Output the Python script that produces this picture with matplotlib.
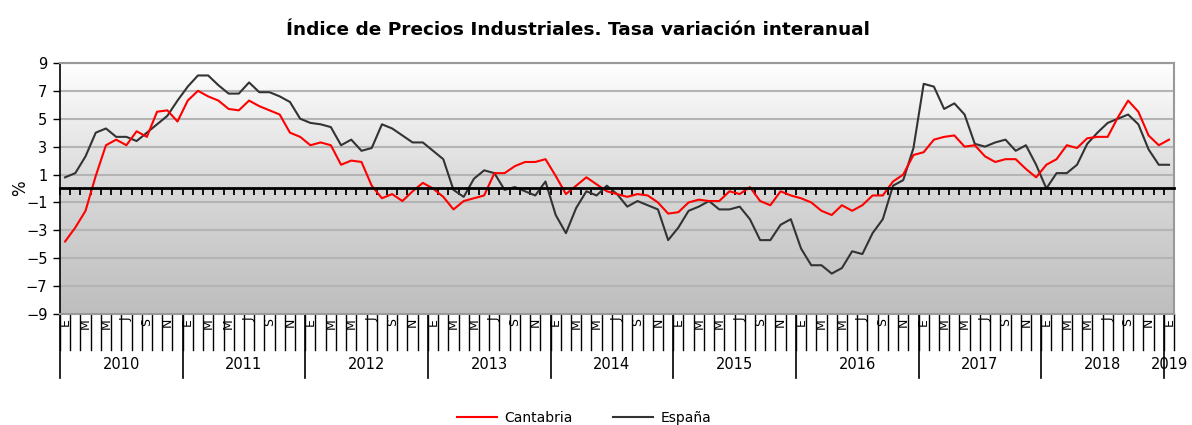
import numpy as np
import matplotlib
matplotlib.use("Agg")
import matplotlib.pyplot as plt
import matplotlib.transforms as mtransforms
from matplotlib.colors import LinearSegmentedColormap

# datos mensuales ene-2010 .. ene-2019
anios = ['2010', '2011', '2012', '2013', '2014', '2015', '2016', '2017', '2018', '2019']
meses = ['E', 'F', 'M', 'A', 'M', 'J', 'J', 'A', 'S', 'O', 'N', 'D']

cantabria = [-3.8, -2.8, -1.6, 0.9, 3.1, 3.5, 3.1, 4.1, 3.7, 5.5, 5.6, 4.8,
             6.3, 7.0, 6.6, 6.3, 5.7, 5.6, 6.3, 5.9, 5.6, 5.3, 4.0, 3.7,
             3.1, 3.3, 3.1, 1.7, 2.0, 1.9, 0.2, -0.7, -0.4, -0.9, -0.2, 0.4,
             0.0, -0.6, -1.5, -0.9, -0.7, -0.5, 1.1, 1.1, 1.6, 1.9, 1.9, 2.1,
             0.9, -0.4, 0.2, 0.8, 0.3, -0.2, -0.4, -0.6, -0.4, -0.5, -1.0, -1.8,
             -1.7, -1.0, -0.8, -0.9, -0.9, -0.2, -0.4, 0.1, -0.9, -1.2, -0.2, -0.5,
             -0.7, -1.0, -1.6, -1.9, -1.2, -1.6, -1.2, -0.5, -0.5, 0.5, 1.0, 2.4,
             2.6, 3.5, 3.7, 3.8, 3.0, 3.1, 2.3, 1.9, 2.1, 2.1, 1.4, 0.8,
             1.7, 2.1, 3.1, 2.9, 3.6, 3.7, 3.7, 5.1, 6.3, 5.5, 3.8, 3.1,
             3.5]

espana = [0.8, 1.1, 2.3, 4.0, 4.3, 3.7, 3.7, 3.4, 4.0, 4.6, 5.2, 6.3,
          7.3, 8.1, 8.1, 7.4, 6.8, 6.8, 7.6, 6.9, 6.9, 6.6, 6.2, 5.0,
          4.7, 4.6, 4.4, 3.1, 3.5, 2.7, 2.9, 4.6, 4.3, 3.8, 3.3, 3.3,
          2.7, 2.1, -0.1, -0.6, 0.7, 1.3, 1.1, -0.1, 0.1, -0.2, -0.5, 0.5,
          -1.9, -3.2, -1.4, -0.2, -0.5, 0.2, -0.4, -1.3, -0.9, -1.2, -1.5, -3.7,
          -2.8, -1.6, -1.3, -0.9, -1.5, -1.5, -1.3, -2.2, -3.7, -3.7, -2.6, -2.2,
          -4.3, -5.5, -5.5, -6.1, -5.7, -4.5, -4.7, -3.2, -2.2, 0.2, 0.6, 2.9,
          7.5, 7.3, 5.7, 6.1, 5.3, 3.2, 3.0, 3.3, 3.5, 2.7, 3.1, 1.7,
          0.0, 1.1, 1.1, 1.7, 3.2, 4.0, 4.7, 5.0, 5.3, 4.6, 2.8, 1.7,
          1.7]

n = len(cantabria)
x = np.arange(n)

fig = plt.figure(figsize=(11.92, 4.25), dpi=100)
ax = fig.add_axes([0.0503, 0.261, 0.9347, 0.591])

# fondo degradado blanco -> gris
cmap = LinearSegmentedColormap.from_list('fondo', ['#bebebe', '#d8d8d8', '#ffffff'])
grad = np.linspace(0, 1, 256).reshape(-1, 1)
ax.imshow(grad, extent=[-0.5, n - 0.5, -9, 9], origin='lower', aspect='auto',
          cmap=cmap, zorder=0)

for yv in range(-9, 10, 2):
    ax.axhline(yv, color='#b4b4b4' if yv != 9 else '#999999', lw=1.5, zorder=1)

ax.plot(x, espana, color='#333333', lw=1.5, zorder=3, label='España')
ax.plot(x, cantabria, color='#ff0000', lw=1.5, zorder=4, label='Cantabria')

ax.set_xlim(-0.5, n - 0.5)
ax.set_ylim(-9, 9)
ax.set_yticks(range(-9, 10, 2))
ax.tick_params(axis='y', direction='out', length=5, width=1, labelsize=10.5, pad=4)

# eje de categorías en el cero
ax.spines['bottom'].set_position(('data', 0))
ax.spines['bottom'].set_linewidth(2)
ax.spines['bottom'].set_zorder(5)
ax.set_xticks(np.arange(-0.5, n, 1))
ax.tick_params(axis='x', direction='out', length=5, width=1.3, labelbottom=False)
ax.spines['left'].set_linewidth(1.2)
ax.spines['top'].set_color('#999999')
ax.spines['right'].set_color('#999999')
ax.spines['top'].set_linewidth(1.5)
ax.spines['right'].set_linewidth(1.5)
ax.axhline(-9, color='#999999', lw=1.5, zorder=5, clip_on=False)
ax.set_ylabel('%', fontsize=12)
ax.yaxis.set_label_coords(-0.028, 0.5)

# etiquetas de meses y años
trans = mtransforms.blended_transform_factory(ax.transData, ax.transAxes)
for i in range(n):
    ax.plot([i - 0.5, i - 0.5], [0, -0.143], color='black', lw=1, transform=trans,
            clip_on=False)
    if i % 2 == 0:
        ax.text(i, -0.015, meses[i % 12], rotation=90, ha='center', va='top',
                fontsize=9, transform=trans)
ax.plot([n - 0.5, n - 0.5], [0, -0.143], color='black', lw=1, transform=trans,
        clip_on=False)
for k, a in enumerate(anios):
    x0 = k * 12 - 0.5
    ax.plot([x0, x0], [0, -0.255], color='black', lw=1.2, transform=trans,
            clip_on=False)
    x1 = min(x0 + 12, n - 0.5)
    ax.text((x0 + x1) / 2, -0.2, a, ha='center', va='center', fontsize=10.5,
            transform=trans)

fig.text(0.485, 0.929, 'Índice de Precios Industriales. Tasa variación interanual',
         ha='center', va='center', fontsize=13.3, fontweight='bold')

h, l = ax.get_legend_handles_labels()
fig.legend(h[::-1], l[::-1], loc='center', bbox_to_anchor=(0.49, 0.016), ncol=2,
           frameon=False, fontsize=10, handlelength=2.9, columnspacing=2.9,
           handletextpad=0.5)

fig.savefig('out.png', dpi=100)
